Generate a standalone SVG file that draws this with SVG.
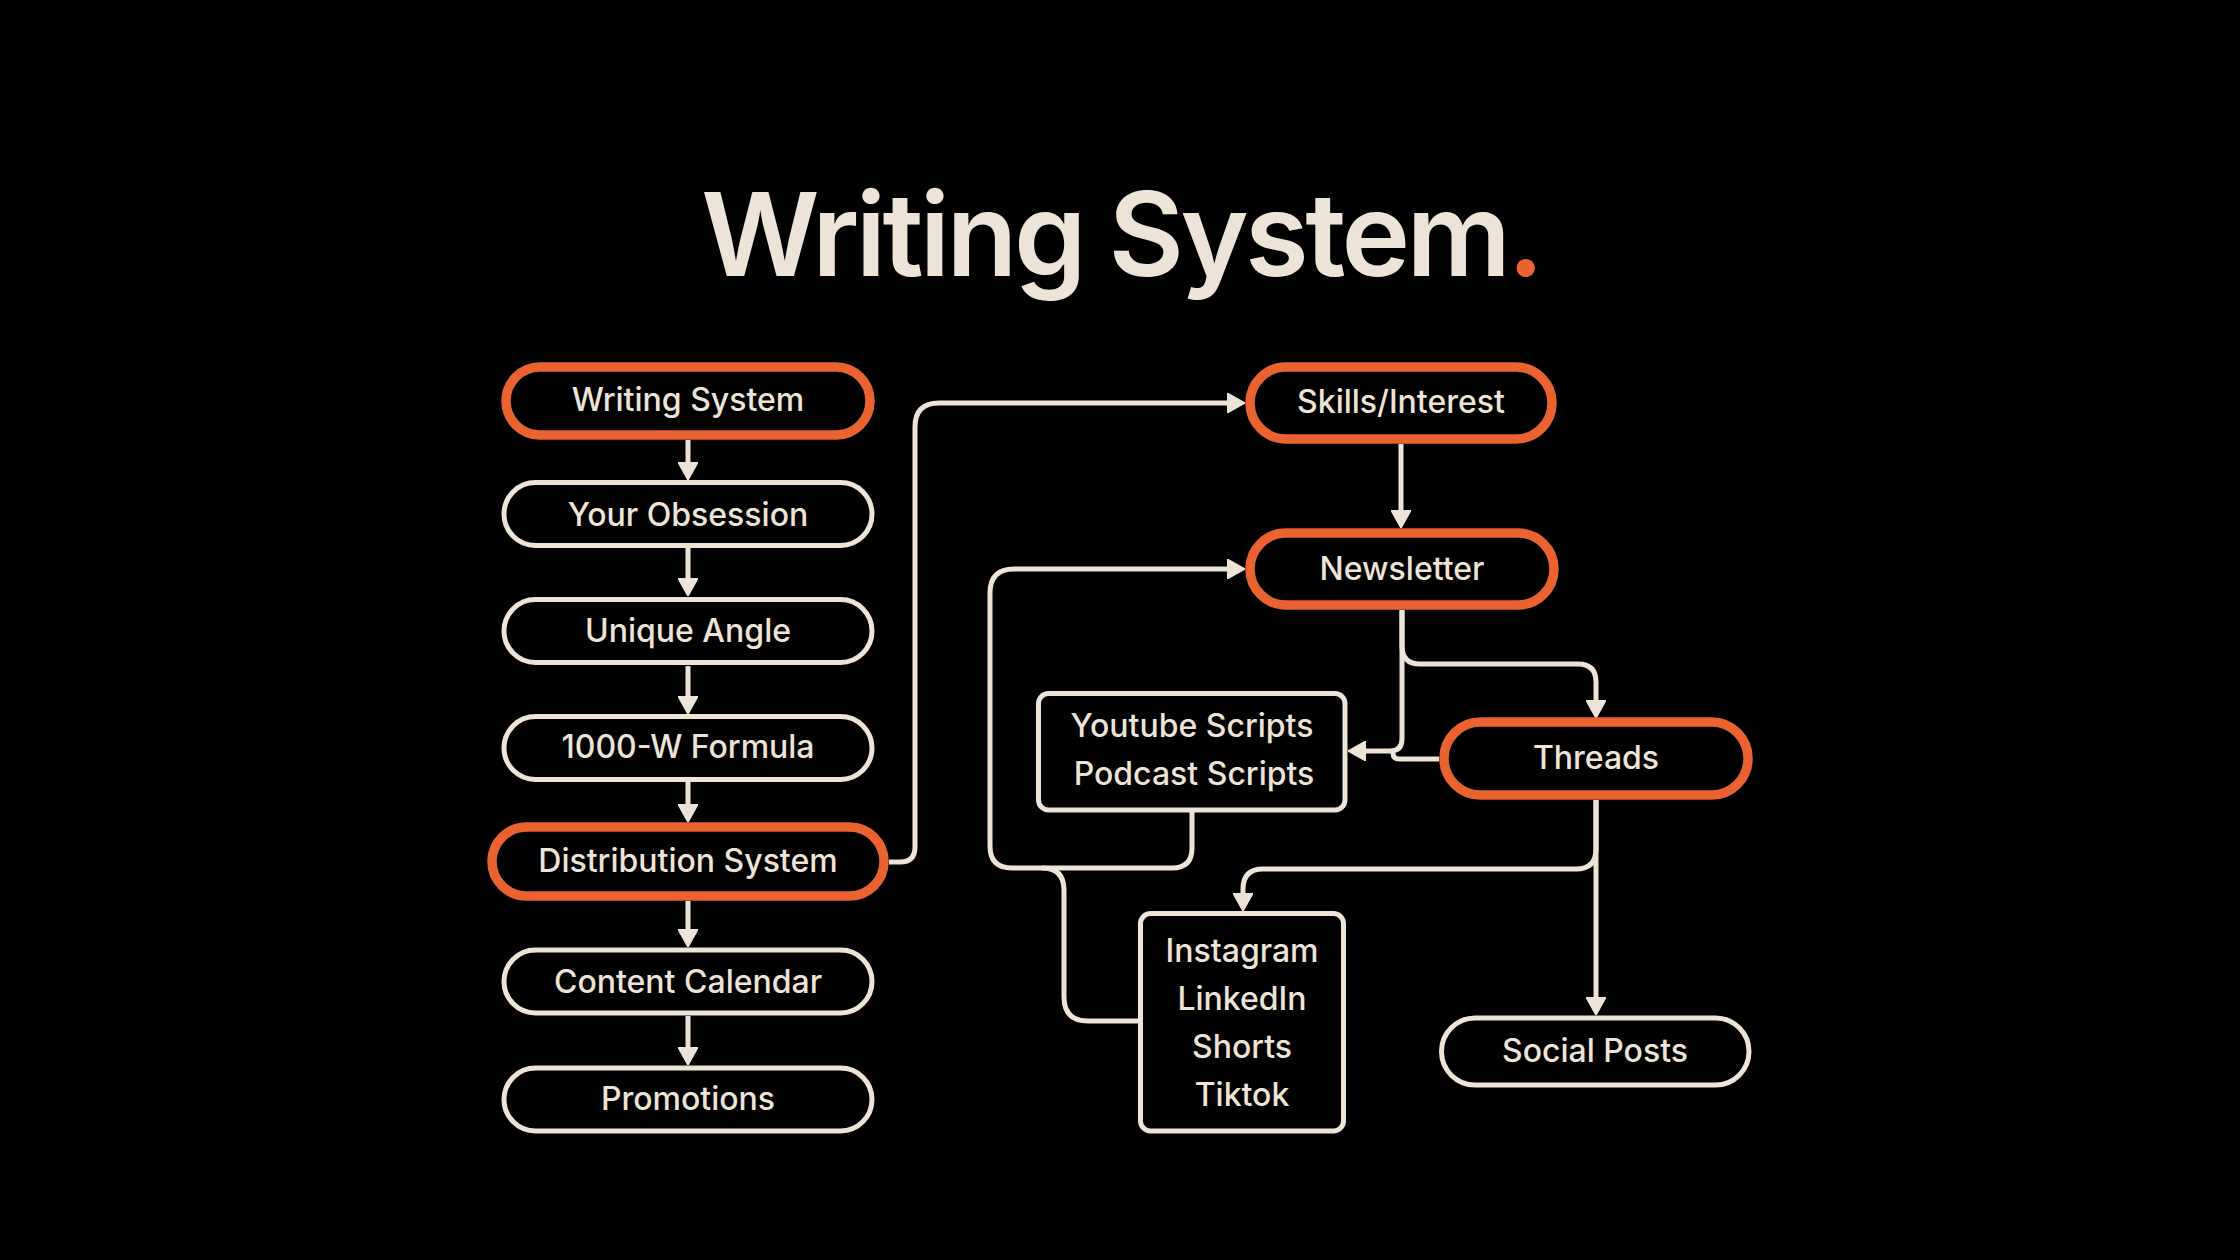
<svg xmlns="http://www.w3.org/2000/svg" width="2240" height="1260" viewBox="0 0 2240 1260">
<defs>
<style>
.bg{fill:#000}
.po{fill:#000;stroke:#E9622F;stroke-width:9.5}
.pw{fill:#000;stroke:#EEE3D7;stroke-width:5}
.t{font-family:Inter,"Liberation Sans",sans-serif;font-weight:500;font-size:32px;fill:#EEE3D7;text-anchor:middle;letter-spacing:0px}
.title{font-family:Inter,"Liberation Sans",sans-serif;font-weight:600;font-size:116px;fill:#EEE3D7;text-anchor:middle;letter-spacing:-3.6px}
.c{fill:none;stroke:#EEE3D7;stroke-width:5}
.a{marker-end:url(#arr)}
</style>
<marker id="arr" viewBox="0 0 18 20" refX="14" refY="10" markerWidth="18" markerHeight="20" markerUnits="userSpaceOnUse" orient="auto">
<path d="M0,0 L18,10 L0,20 Z" fill="#EEE3D7" stroke="#EEE3D7" stroke-width="1.5" stroke-linejoin="round"/>
</marker>
</defs>
<rect class="bg" x="0" y="0" width="2240" height="1260"/>
<text class="title" x="1121" y="276">Writing System<tspan fill="#E9622F">.</tspan></text>

<g id="connectors">
<path class="c a" d="M688,440 V476"/>
<path class="c a" d="M688,548 V592"/>
<path class="c a" d="M688,666 V710"/>
<path class="c a" d="M688,782 V818"/>
<path class="c a" d="M688,901 V943"/>
<path class="c a" d="M688,1016 V1061"/>
<path class="c a" d="M889,862 H900 Q915,862 915,847 V427 Q915,403 939,403 H1241"/>
<path class="c a" d="M1401,444 V524"/>
<path class="c a" d="M1402,610 V646 Q1402,664 1420,664 H1578 Q1596,664 1596,682 V714"/>
<path class="c a" d="M1402,610 V739 Q1402,751 1390,751 H1352"/>
<path class="c" d="M1439,759 H1399 Q1393,759 1393,753"/>
<path class="c a" d="M1596,800 V849 Q1596,869 1576,869 H1263 Q1243,869 1243,889 V907"/>
<path class="c a" d="M1596,800 V1011"/>
<path class="c a" d="M1192,812 V848 Q1192,868 1172,868 H1012 Q990,868 990,846 V593 Q990,569 1014,569 H1241"/>
<path class="c" d="M1138,1021 H1088 Q1064,1021 1064,997 V890 Q1064,868 1042,868"/>
</g>

<g id="n-writing-system"><rect class="po" x="506" y="367" width="364" height="68" rx="34"/><text class="t" x="688" y="411">Writing System</text></g>
<g id="n-your-obsession"><rect class="pw" x="504" y="482.5" width="368" height="63" rx="31.5"/><text class="t" x="688" y="526">Your Obsession</text></g>
<g id="n-unique-angle"><rect class="pw" x="504" y="599.5" width="368" height="63" rx="31.5"/><text class="t" x="688" y="642">Unique Angle</text></g>
<g id="n-1000w"><rect class="pw" x="504" y="716.5" width="368" height="63" rx="31.5"/><text class="t" x="688" y="758">1000-W Formula</text></g>
<g id="n-distribution"><rect class="po" x="492" y="827" width="392" height="69" rx="34.5"/><text class="t" x="688" y="872">Distribution System</text></g>
<g id="n-content-calendar"><rect class="pw" x="504" y="950" width="368" height="63" rx="31.5"/><text class="t" x="688" y="993">Content Calendar</text></g>
<g id="n-promotions"><rect class="pw" x="504" y="1068" width="368" height="63" rx="31.5"/><text class="t" x="688" y="1110">Promotions</text></g>
<g id="n-skills"><rect class="po" x="1250" y="367" width="302" height="72" rx="36"/><text class="t" x="1401" y="413">Skills/Interest</text></g>
<g id="n-newsletter"><rect class="po" x="1250" y="533" width="304" height="72" rx="36"/><text class="t" x="1402" y="580">Newsletter</text></g>
<g id="n-threads"><rect class="po" x="1444" y="722" width="304" height="73" rx="36.5"/><text class="t" x="1596" y="769">Threads</text></g>
<g id="n-scripts"><rect class="pw" x="1038.5" y="693.5" width="306.5" height="116.5" rx="10"/><text class="t" x="1192" y="737">Youtube Scripts</text><text class="t" x="1194" y="785">Podcast Scripts</text></g>
<g id="n-platforms"><rect class="pw" x="1140.5" y="913.5" width="203" height="217.5" rx="10"/><text class="t" x="1242" y="962">Instagram</text><text class="t" x="1242" y="1010">LinkedIn</text><text class="t" x="1242" y="1058">Shorts</text><text class="t" x="1242" y="1106">Tiktok</text></g>
<g id="n-social-posts"><rect class="pw" x="1441.5" y="1018" width="307.5" height="67" rx="33.5"/><text class="t" x="1595" y="1062">Social Posts</text></g>
</svg>
